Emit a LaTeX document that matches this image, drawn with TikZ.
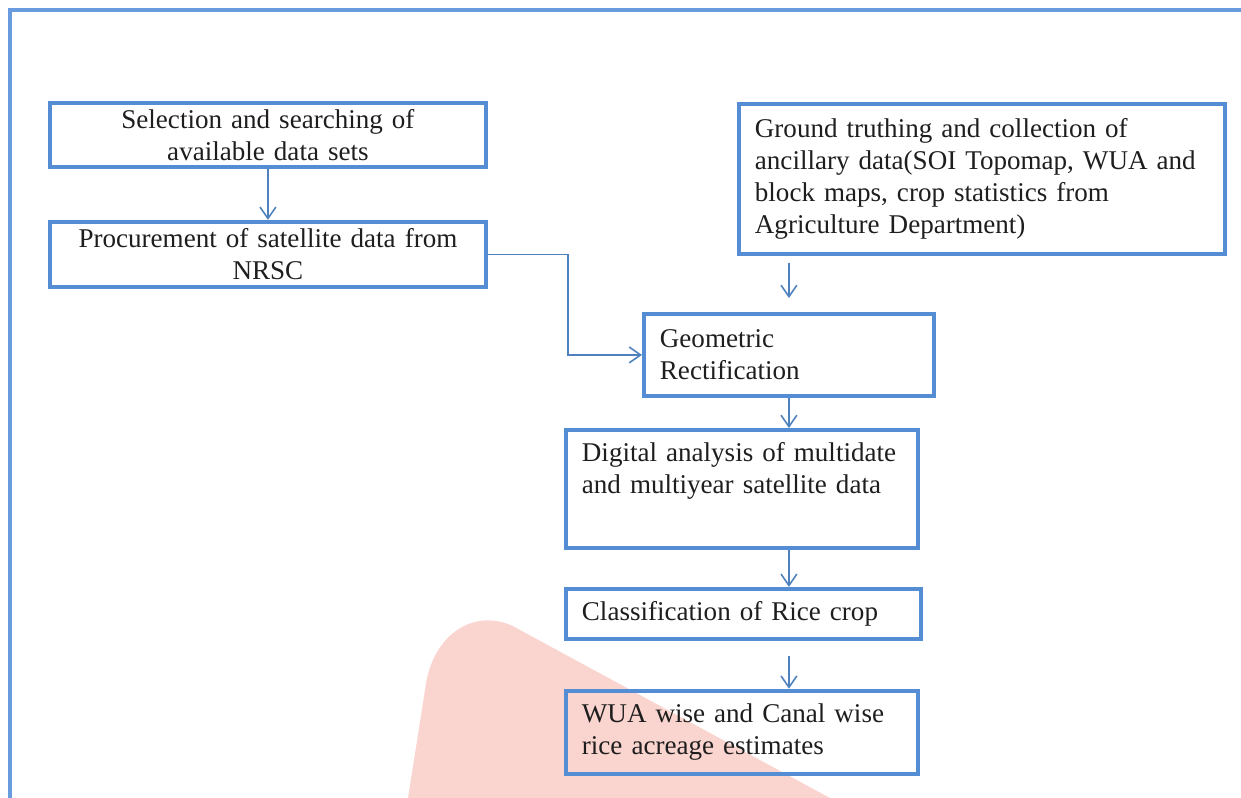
\documentclass[tikz,border=0pt]{standalone}
\usepackage{fontspec}
\setmainfont{Liberation Serif}
\usepackage{tikz}
\usetikzlibrary{arrows.meta,calc,positioning}
\definecolor{officeblue}{RGB}{84,141,212}
\definecolor{linkblue}{RGB}{79,129,189}
\definecolor{framblue}{RGB}{104,156,222}
\definecolor{stampink}{RGB}{250,212,206}
\definecolor{inkgray}{RGB}{30,30,30}
\tikzset{
  stage/.style={
    draw=officeblue,
    line width=2.2pt,
    align=left,
    inner xsep=0.32cm,
    inner ysep=0pt,
    text=inkgray,
    font=\fontsize{15.4}{18.2}\selectfont
  },
  stagemid/.style={
    stage,
    align=center
  },
  arrow/.style={
    -{Straight Barb[length=6.5pt,width=9pt]},
    line width=0.9pt,
    linkblue
  }
}
\begin{document}
\begin{tikzpicture}
\useasboundingbox (0,0) rectangle (24.82,-15.96);
% watermark behind the flow
\fill[stampink] (8.16,-15.96) -- (8.5,-13.8) .. controls (8.64,-12.6) and (9.6,-12.1) .. (10.4,-12.6) -- (16.6,-15.96) -- cycle;
% frame
\draw[framblue, line width=2.8pt] (0.2,-15.96) -- (0.2,-0.2) -- (24.82,-0.2);

\node[stagemid, anchor=north west, text width=8.08cm, minimum height=1.28cm] (sel) at (0.96,-2.02)
  {Selection and searching of\\available data sets};
\node[stagemid, below=1.02cm of sel, text width=8.08cm, minimum height=1.3cm] (proc)
  {Procurement of satellite data from\\NRSC};
\node[stage, anchor=north west, text width=9.08cm, minimum height=3cm] (ground) at (14.74,-2.04)
  {Ground truthing and collection of\\ancillary data(SOI Topomap, WUA and\\block maps, crop statistics from\\Agriculture Department)};
\node[stage, anchor=north west, text width=5.16cm, minimum height=1.64cm] (geo) at (12.84,-6.24)
  {Geometric\\Rectification};
\node[stage, anchor=north west, text width=6.4cm, minimum height=2.36cm] (dig) at (11.28,-8.56)
  {Digital analysis of multidate\\and multiyear satellite data\\\strut};
\node[stage, below=0.74cm of dig.south west, anchor=north west, text width=6.46cm, minimum height=1cm] (cls)
  {Classification of Rice crop};
\node[stage, below=0.96cm of cls.south west, anchor=north west, text width=6.4cm, minimum height=1.66cm] (wua)
  {WUA wise and Canal wise\\rice acreage estimates};

\draw[arrow] (sel) -- (proc);
\draw[arrow] (proc.east) -- ++(1.6,0) |- (geo.west);
\draw[arrow, shorten <=0.14cm, shorten >=0.28cm] (geo.north |- ground.south) -- (geo.north);
\draw[arrow] (geo) -- (geo.south |- dig.north);
\draw[arrow] (geo.south |- dig.south) -- (geo.south |- cls.north);
\draw[arrow, shorten <=0.3cm] (geo.south |- cls.south) -- (geo.south |- wua.north);
\end{tikzpicture}
\end{document}
